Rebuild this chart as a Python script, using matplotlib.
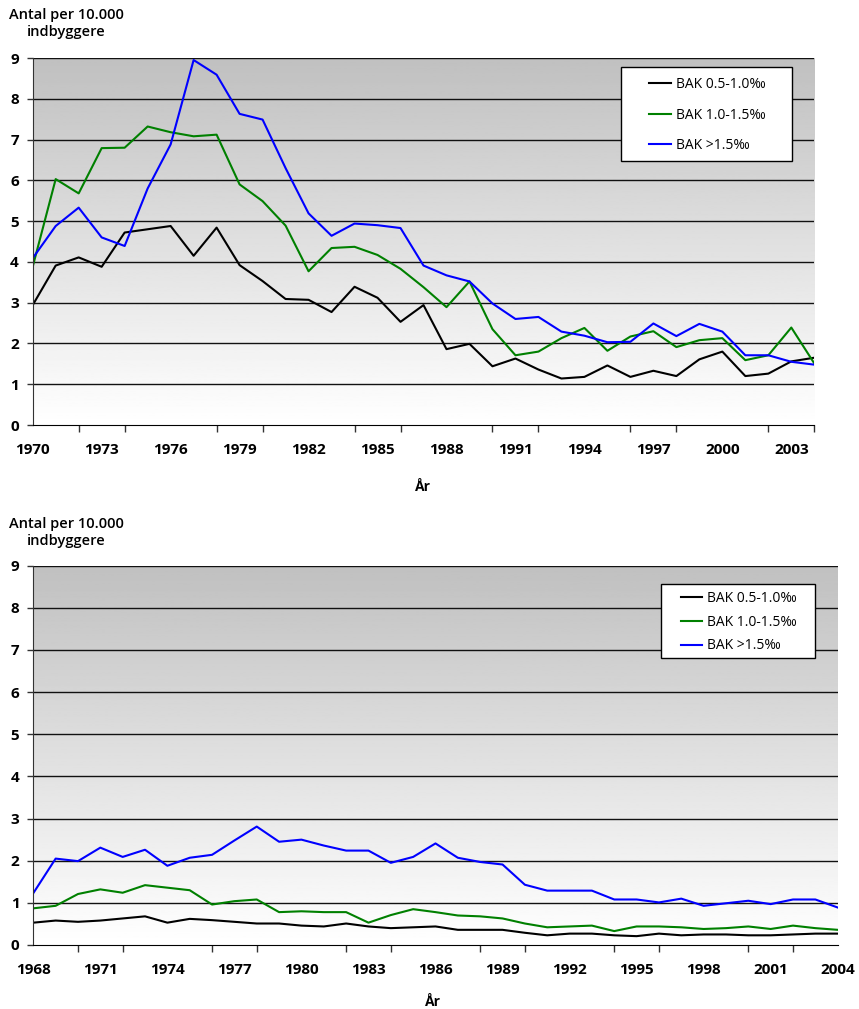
import numpy as np
import matplotlib
matplotlib.use("Agg")
import matplotlib.pyplot as plt
from matplotlib.patches import Rectangle

plt.rcParams['font.family'] = ['Open Sans', 'DejaVu Sans']

# ---- Data: top chart (1970-2004) ----
years_top = list(range(1970, 2005))
top_bak_05_10 = [2.94, 3.91, 4.11, 3.88, 4.72, 4.80, 4.88, 4.15, 4.84, 3.92,
                 3.53, 3.09, 3.07, 2.77, 3.39, 3.12, 2.53, 2.94, 1.86, 1.99,
                 1.44, 1.63, 1.36, 1.14, 1.18, 1.46, 1.18, 1.33, 1.20, 1.61,
                 1.80, 1.20, 1.26, 1.56, 1.65]
top_bak_10_15 = [3.88, 6.03, 5.68, 6.79, 6.80, 7.32, 7.18, 7.08, 7.12, 5.90,
                 5.49, 4.89, 3.77, 4.34, 4.37, 4.17, 3.83, 3.38, 2.89, 3.52,
                 2.35, 1.71, 1.80, 2.13, 2.38, 1.82, 2.17, 2.30, 1.91, 2.08,
                 2.13, 1.59, 1.71, 2.39, 1.51]
top_bak_15 = [4.09, 4.88, 5.33, 4.60, 4.39, 5.80, 6.88, 8.95, 8.59, 7.63,
              7.49, 6.30, 5.19, 4.64, 4.94, 4.90, 4.83, 3.91, 3.67, 3.52,
              2.98, 2.60, 2.65, 2.29, 2.19, 2.03, 2.04, 2.49, 2.18, 2.48,
              2.29, 1.71, 1.71, 1.55, 1.48]

# ---- Data: bottom chart (1968-2004) ----
years_bot = list(range(1968, 2005))
bot_bak_05_10 = [0.53, 0.58, 0.55, 0.58, 0.63, 0.68, 0.53, 0.62, 0.59, 0.55,
                 0.51, 0.51, 0.46, 0.44, 0.51, 0.44, 0.40, 0.42, 0.44, 0.36,
                 0.36, 0.36, 0.29, 0.23, 0.27, 0.27, 0.23, 0.21, 0.27, 0.23,
                 0.25, 0.25, 0.23, 0.23, 0.25, 0.27, 0.27]
bot_bak_10_15 = [0.87, 0.93, 1.21, 1.32, 1.24, 1.42, 1.36, 1.30, 0.96, 1.04,
                 1.08, 0.78, 0.80, 0.78, 0.78, 0.53, 0.71, 0.85, 0.78, 0.70,
                 0.68, 0.63, 0.51, 0.42, 0.44, 0.46, 0.33, 0.44, 0.44, 0.42,
                 0.38, 0.40, 0.44, 0.38, 0.46, 0.40, 0.36]
bot_bak_15 = [1.23, 2.05, 1.99, 2.31, 2.09, 2.26, 1.88, 2.07, 2.14, 2.48,
              2.81, 2.45, 2.50, 2.36, 2.24, 2.24, 1.95, 2.09, 2.41, 2.07,
              1.97, 1.91, 1.43, 1.29, 1.29, 1.29, 1.08, 1.08, 1.01, 1.10,
              0.93, 0.99, 1.05, 0.97, 1.08, 1.08, 0.89]

series_labels = ['BAK 0.5-1.0\u2030', 'BAK 1.0-1.5\u2030', 'BAK >1.5\u2030']
series_colors = ['#000000', '#008000', '#0000ff']

W, H = 859, 1009
fig = plt.figure(figsize=(W / 100, H / 100), dpi=100)


def px_axes(left, top, right, bottom):
    return fig.add_axes([left / W, 1 - bottom / H, (right - left) / W, (bottom - top) / H])


def draw_chart(ax, years, series, legend_px, label_spacing, ylabel_xy, xlabel_xy):
    x0, x1 = years[0], years[-1]
    # gradient background
    grad = np.linspace(1.0, 0.753, 256).reshape(-1, 1)
    ax.imshow(grad, extent=[x0, x1, 0, 9], aspect='auto', cmap='gray',
              vmin=0, vmax=1, origin='lower', zorder=0)
    for yv in range(1, 10):
        ax.axhline(yv, color='#111111', lw=1.0, zorder=1)
    for vals, lab, col in zip(series, series_labels, series_colors):
        ax.plot(years, vals, color=col, lw=1.5, label=lab, zorder=3)
    ax.set_xlim(x0, x1)
    ax.set_ylim(0, 9)
    ax.set_yticks(range(0, 10))
    ax.set_yticklabels([str(v) for v in range(0, 10)], fontsize=11, fontweight='bold')
    lab_years = list(range(x0, x1 + 1, 3))
    ax.set_xticks(lab_years)
    ax.set_xticklabels([str(y) for y in lab_years], fontsize=11, fontweight='bold')
    ax.tick_params(axis='x', which='major', length=0, pad=13)
    ax.set_xticks(list(range(x0, x1 + 1, 2)), minor=True)
    ax.tick_params(axis='x', which='minor', length=5, width=1, color='#333333', direction='out')
    ax.tick_params(axis='y', length=4, width=1, color='#333333', pad=6)
    for s in ['top', 'right']:
        ax.spines[s].set_visible(False)
    ax.spines['left'].set_color('#333333')
    ax.spines['bottom'].set_color('#000000')
    ax.spines['left'].set_zorder(4)
    ax.spines['bottom'].set_zorder(4)
    # legend frame (pixel box) and legend content centered in it
    lx0, ly0, lx1, ly1 = legend_px
    rect = Rectangle((lx0 / W, 1 - ly1 / H), (lx1 - lx0) / W, (ly1 - ly0) / H,
                     transform=fig.transFigure, facecolor='white', edgecolor='black',
                     lw=1.0, zorder=4, clip_on=False)
    fig.patches.append(rect)
    cx = ((lx0 + lx1) / 2 + 1) / W
    cy = 1 - ((ly0 + ly1) / 2 + 1) / H
    leg = fig.legend(*ax.get_legend_handles_labels(), loc='center',
                     bbox_to_anchor=(cx, cy), bbox_transform=fig.transFigure,
                     fontsize=10, frameon=False, handlelength=1.55, handletextpad=0.35,
                     labelspacing=label_spacing, borderpad=0, borderaxespad=0)
    leg.set_zorder(5)
    fig.text(ylabel_xy[0] / W, 1 - ylabel_xy[1] / H, 'Antal per 10.000\nindbyggere',
             ha='center', va='top', fontsize=10.5, fontweight='semibold', linespacing=1.25)
    fig.text(xlabel_xy[0] / W, 1 - xlabel_xy[1] / H, 'År', ha='center', va='center',
             fontsize=10, fontweight='bold')


ax1 = px_axes(32.7, 58, 814.3, 425)
draw_chart(ax1, years_top, [top_bak_05_10, top_bak_10_15, top_bak_15],
           (620.5, 67, 792, 161), 1.1, (66, 8), (423, 487))

ax2 = px_axes(33.3, 565.7, 837.7, 945)
draw_chart(ax2, years_bot, [bot_bak_05_10, bot_bak_10_15, bot_bak_15],
           (661.3, 584.3, 814.7, 658.3), 0.62, (66, 517), (433, 1002))

fig.savefig('out.png', dpi=100)
